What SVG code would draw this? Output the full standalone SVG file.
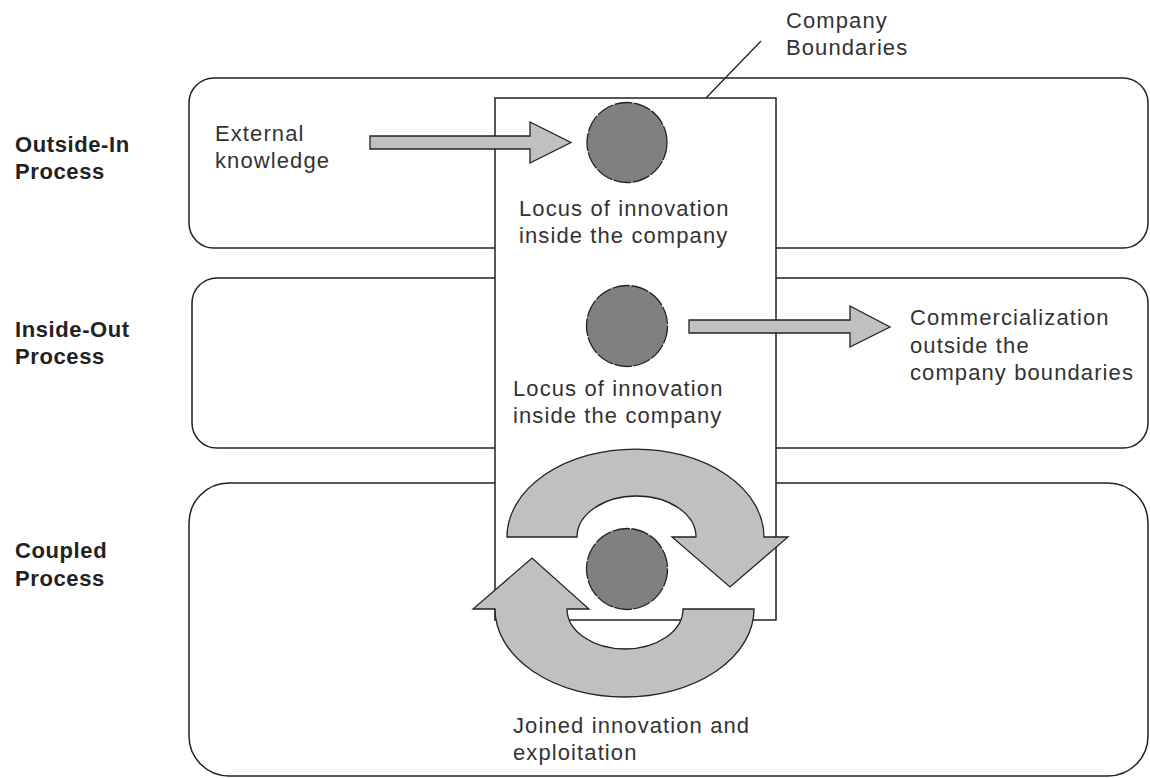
<svg xmlns="http://www.w3.org/2000/svg" width="1150" height="778" viewBox="0 0 1150 778">
  <style>
    .box { fill: #ffffff; stroke: #222222; stroke-width: 1.5; }
    .label { font-family: "Liberation Sans", Arial, sans-serif; font-size: 22px; font-weight: bold; fill: #222222; letter-spacing: 0.6px; }
    .txt { font-family: "Liberation Sans", Arial, sans-serif; font-size: 22px; fill: #333333; letter-spacing: 1.1px; }
    .arrow { fill: #c0c0c0; stroke: #222222; stroke-width: 1.3; stroke-linejoin: miter; }
    .locus { fill: #808080; stroke: #222222; stroke-width: 1.3; stroke-dasharray: 18 1.5; }
    .line { stroke: #222222; stroke-width: 1.3; fill: none; }
  </style>

  <!-- Process lanes -->
  <g id="lane-outside-in">
    <rect class="box" x="189" y="78" width="959" height="170" rx="25" ry="25"/>
    <text class="label" x="15" y="152">Outside-In</text>
    <text class="label" x="15" y="179">Process</text>
  </g>
  <g id="lane-inside-out">
    <rect class="box" x="192" y="278" width="956" height="170" rx="25" ry="25"/>
    <text class="label" x="15" y="337">Inside-Out</text>
    <text class="label" x="15" y="364">Process</text>
  </g>
  <g id="lane-coupled">
    <rect class="box" x="189" y="483" width="959" height="293" rx="40" ry="40"/>
    <text class="label" x="15" y="558">Coupled</text>
    <text class="label" x="15" y="586">Process</text>
  </g>

  <!-- Company boundaries -->
  <g id="company-boundaries">
    <rect class="box" x="495" y="98" width="281" height="522"/>
    <text class="txt" x="786" y="28">Company</text>
    <text class="txt" x="786" y="55">Boundaries</text>
  </g>

  <!-- Text nodes -->
  <g id="external-knowledge">
    <text class="txt" x="215" y="141">External</text>
    <text class="txt" x="215" y="168">knowledge</text>
  </g>
  <g id="locus-outside-in">
    <circle class="locus" cx="627" cy="142.5" r="40"/>
    <text class="txt" x="519" y="216">Locus of innovation</text>
    <text class="txt" x="519" y="243">inside the company</text>
  </g>
  <g id="locus-inside-out">
    <circle class="locus" cx="627" cy="326" r="40.5"/>
    <text class="txt" x="513" y="396">Locus of innovation</text>
    <text class="txt" x="513" y="423">inside the company</text>
  </g>
  <g id="commercialization">
    <text class="txt" x="910" y="325">Commercialization</text>
    <text class="txt" x="910" y="353">outside the</text>
    <text class="txt" x="910" y="380">company boundaries</text>
  </g>
  <g id="locus-coupled">
    <circle class="locus" cx="627" cy="569" r="40.5"/>
  </g>
  <g id="joined">
    <text class="txt" x="513" y="733">Joined innovation and</text>
    <text class="txt" x="513" y="760">exploitation</text>
  </g>

  <!-- Connectors -->
  <g id="connectors">
    <line class="line" x1="706" y1="98" x2="761" y2="41"/>
    <path class="arrow" d="M370 136 L530 136 L530 122 L571 142.5 L530 163 L530 149 L370 149 Z"/>
    <path class="arrow" d="M689 320 L850 320 L850 306 L890 327 L850 347 L850 333 L689 333 Z"/>
    <path class="arrow" d="M507 537 A128.5 88 0 0 1 764 537 L788 537 L730 587 L672 537 L696 537 A59.5 41 0 0 0 577 537 Z"/>
    <path class="arrow" d="M754 609 A129.5 88 0 0 1 495 609 L473 609 L532 558 L589 609 L567 609 A58 40 0 0 0 683 609 Z"/>
  </g>
</svg>
